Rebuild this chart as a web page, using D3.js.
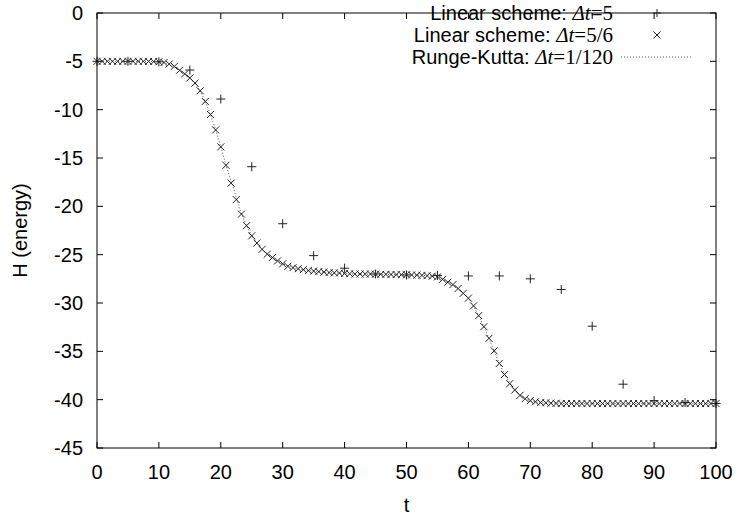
<!DOCTYPE html>
<html>
<head>
<meta charset="utf-8">
<script src="https://cdn.jsdelivr.net/npm/d3@7"></script>
<style>
body { margin: 0; background: #fff; }
text { font-family: "Liberation Sans", Arial, sans-serif; fill: #000; }
.serif { font-family: "Liberation Serif", "Times New Roman", serif; }
</style>
</head>
<body>
<svg width="738" height="520"></svg>
<script>
// Linear scheme, dt = 5
var coarseT = [0,5,10,15,20,25,30,35,40,45,50,55,60,65,70,75,80,85,90,95,100];
var coarseH = [-5,-5,-5.05,-5.9,-8.9,-15.9,-21.8,-25.1,-26.4,-27.0,-27.1,-27.15,-27.2,-27.2,-27.5,-28.6,-32.4,-38.4,-40.1,-40.3,-40.4];

// Linear scheme, dt = 5/6 (t = i*5/6)
var fineH = [-5,-5,-5,-5,-5,-5,-5,-5,-5,-5,
  -5.01,-5.02,-5.04,-5.12,-5.28,-5.52,-5.93,-6.3,-6.72,-7.25,
  -8.05,-9.15,-10.5,-12.1,-13.85,-15.75,-17.6,-19.3,-20.8,-22.0,
  -23.05,-23.8,-24.45,-24.95,-25.3,-25.65,-25.95,-26.2,-26.35,-26.45,
  -26.55,-26.65,-26.7,-26.75,-26.8,-26.85,-26.88,-26.9,-26.95,-26.97,
  -27.0,-27.0,-27.0,-27.0,-27.02,-27.03,-27.04,-27.05,-27.06,-27.07,
  -27.08,-27.1,-27.12,-27.14,-27.17,-27.22,-27.3,-27.55,-27.85,-28.1,
  -28.5,-29.0,-29.5,-30.3,-31.3,-32.45,-33.65,-34.95,-36.25,-37.4,
  -38.35,-39.0,-39.55,-39.9,-40.1,-40.22,-40.3,-40.33,-40.36,-40.38,
  -40.4,-40.4,-40.4,-40.4,-40.4,-40.4,-40.4,-40.4,-40.4,-40.4,
  -40.4,-40.4,-40.4,-40.4,-40.4,-40.4,-40.4,-40.4,-40.4,-40.4,
  -40.4,-40.4,-40.4,-40.4,-40.4,-40.4,-40.4,-40.4,-40.4,-40.4,
  -40.4];
var fineT = fineH.map((h, i) => i * 5 / 6);

// Runge-Kutta, dt = 1/120 (sampled at integer t)
var rkT = d3.range(0, 101);
var rkH = [-5,-5,-5,-5,-5,-5,-5,-5,-5,-5,
  -5.04,-5.15,-5.38,-5.75,-6.22,-6.72,-7.4,-8.45,-9.95,-11.75,
  -13.85,-16.1,-18.0,-20.2,-21.8,-23.05,-23.95,-24.65,-25.15,-25.6,
  -25.95,-26.22,-26.4,-26.52,-26.63,-26.7,-26.77,-26.83,-26.87,-26.9,
  -26.95,-26.98,-27.0,-27.0,-27.0,-27.02,-27.04,-27.05,-27.06,-27.07,
  -27.08,-27.1,-27.13,-27.16,-27.21,-27.28,-27.6,-27.95,-28.35,-28.9,
  -29.5,-30.5,-31.75,-33.2,-34.7,-36.25,-37.6,-38.55,-39.35,-39.85,
  -40.1,-40.25,-40.32,-40.35,-40.37,-40.38,-40.4,-40.4,-40.4,-40.4,
  -40.4,-40.4,-40.4,-40.4,-40.4,-40.4,-40.4,-40.4,-40.4,-40.4,
  -40.4,-40.4,-40.4,-40.4,-40.4,-40.4,-40.4,-40.4,-40.4,-40.4,
  -40.4];

var xTicks = d3.range(0, 101, 10);
var yTicks = d3.range(-45, 1, 5);

var svg = d3.select("svg"),
    pLeft = 97, pRight = 716, pTop = 13, pBottom = 448;

var x = d3.scaleLinear().domain([0, 100]).range([pLeft, pRight]);
var y = d3.scaleLinear().domain([-45, 0]).range([pBottom, pTop]);

var tickLen = 6;
var fs = 20;

// ticks (inward, on all four sides)
xTicks.forEach(function(t) {
  svg.append("line").attr("x1", x(t)).attr("x2", x(t)).attr("y1", pBottom).attr("y2", pBottom - tickLen).attr("stroke", "#000");
  svg.append("line").attr("x1", x(t)).attr("x2", x(t)).attr("y1", pTop).attr("y2", pTop + tickLen).attr("stroke", "#000");
  svg.append("text").attr("x", x(t)).attr("y", pBottom + 31).attr("text-anchor", "middle")
    .style("font-size", fs + "px").text(t);
});
yTicks.forEach(function(v) {
  svg.append("line").attr("x1", pLeft).attr("x2", pLeft + tickLen).attr("y1", y(v)).attr("y2", y(v)).attr("stroke", "#000");
  svg.append("line").attr("x1", pRight).attr("x2", pRight - tickLen).attr("y1", y(v)).attr("y2", y(v)).attr("stroke", "#000");
  svg.append("text").attr("x", pLeft - 14).attr("y", y(v) + 7).attr("text-anchor", "end")
    .style("font-size", fs + "px").text(v);
});

// RK line
var line = d3.line().x(d => x(d[0])).y(d => y(d[1]));
svg.append("path")
  .datum(rkT.map((t, i) => [t, rkH[i]]))
  .attr("d", line)
  .attr("fill", "none")
  .attr("stroke", "#555")
  .attr("stroke-width", 1)
  .attr("stroke-dasharray", "1,2");

function plus(g, cx, cy, r) {
  g.append("path").attr("d", "M" + (cx - r) + "," + cy + "H" + (cx + r) + "M" + cx + "," + (cy - r) + "V" + (cy + r))
    .attr("stroke", "#222").attr("stroke-width", 1).attr("fill", "none");
}
function cross(g, cx, cy, r) {
  g.append("path").attr("d", "M" + (cx - r) + "," + (cy - r) + "L" + (cx + r) + "," + (cy + r) + "M" + (cx - r) + "," + (cy + r) + "L" + (cx + r) + "," + (cy - r))
    .attr("stroke", "#222").attr("stroke-width", 1).attr("fill", "none");
}

var marks = svg.append("g");
fineT.forEach(function(t, i) { cross(marks, x(t), y(fineH[i]), 3.5); });
coarseT.forEach(function(t, i) { plus(marks, x(t), y(coarseH[i]), 4.5); });

// frame
svg.append("rect").attr("x", pLeft).attr("y", pTop).attr("width", pRight - pLeft).attr("height", pBottom - pTop)
  .attr("fill", "none").attr("stroke", "#000").attr("stroke-width", 1);

// legend
var legend = [
  { label: "Linear scheme: ", sym: "5", kind: "plus" },
  { label: "Linear scheme: ", sym: "5/6", kind: "cross" },
  { label: "Runge-Kutta: ", sym: "1/120", kind: "line" }
];
legend.forEach(function(d, i) {
  var cy = 13 + i * 22;
  var t = svg.append("text").attr("x", 613).attr("y", cy + 7).attr("text-anchor", "end").style("font-size", fs + "px");
  t.append("tspan").text(d.label);
  t.append("tspan").attr("class", "serif").style("font-style", "italic").style("font-size", "21px").text("\u0394t");
  t.append("tspan").attr("class", "serif").style("font-size", "21px").text("=" + d.sym);
  if (d.kind === "plus") plus(svg, 657, cy, 4);
  else if (d.kind === "cross") cross(svg, 657, cy, 3.5);
  else svg.append("line").attr("x1", 621).attr("x2", 691).attr("y1", cy).attr("y2", cy)
    .attr("stroke", "#555").attr("stroke-dasharray", "1,2");
});

// axis labels
svg.append("text").attr("x", (pLeft + pRight) / 2).attr("y", 512).attr("text-anchor", "middle")
  .style("font-size", fs + "px").text("t");
svg.append("text").attr("transform", "translate(27," + ((pTop + pBottom) / 2) + ") rotate(-90)")
  .attr("text-anchor", "middle").style("font-size", fs + "px").text("H (energy)");
</script>
</body>
</html>
